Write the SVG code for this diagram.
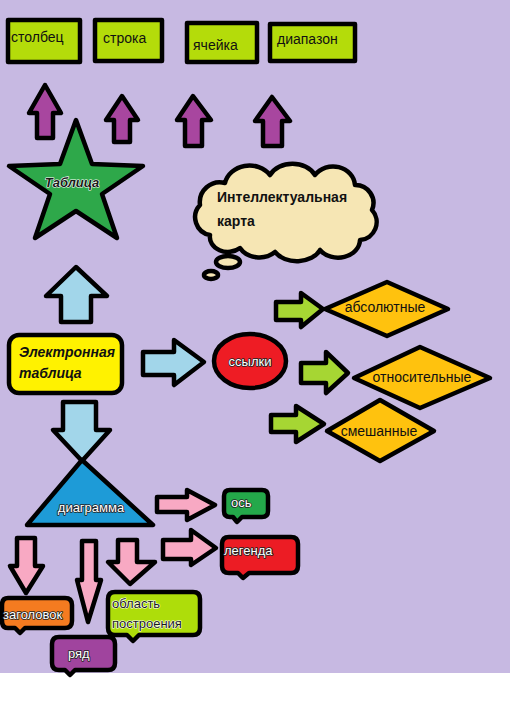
<svg xmlns="http://www.w3.org/2000/svg" width="510" height="702" viewBox="0 0 510 702">
<style>
.s{stroke:#000;stroke-width:4.5;stroke-linejoin:round}
.t{font-family:"Liberation Sans",Arial,sans-serif;font-size:14px;fill:#111}
.w{font-family:"Liberation Sans",Arial,sans-serif;font-size:13px;fill:#fff;stroke:#222;stroke-width:1.6;paint-order:stroke;stroke-linejoin:round}
.d{font-family:"Liberation Sans",Arial,sans-serif;font-size:13px;fill:#1a1a1a;stroke:#fff;stroke-width:1.2;paint-order:stroke;stroke-linejoin:round}
.i{font-style:italic;font-weight:bold}
.box{fill:#B4DC0A}
.pu{fill:#A8469F}
.lb{fill:#A2D6EA}
.gr{fill:#A6D633}
.pk{fill:#F8A9C3}
.dm{fill:#FFC20E}
</style>
<rect x="0" y="0" width="510" height="702" fill="#fff"/>
<rect x="0" y="0" width="510" height="673" fill="#C7B9E2"/>

<g id="connectors">
<polygon class="s pu" points="45,85 61,113 53,113 53,138 37,138 37,113 29,113"/>
<polygon class="s pu" points="122,96 138,120 130,120 130,142 114,142 114,120 106,120"/>
<polygon class="s pu" points="193,96 211,120 202,120 202,146 185,146 185,120 177,120"/>
<polygon class="s pu" points="272,97 290,121 282,121 282,146 263,146 263,121 255,121"/>
<polygon class="s lb" points="76,267 107,296 91,296 91,322 61,322 61,296 46,296"/>
<polygon class="s lb" points="63,402 96,402 96,430 110,430 82,461 53,430 63,430"/>
<polygon class="s lb" points="143,352 174,352 174,340 204,362 174,385 174,375 143,375"/>
<polygon class="s gr" points="276,302 301,302 301,293 323,309 301,327 301,320 276,320"/>
<polygon class="s gr" points="301,363 326,363 326,352 348,373 326,393 326,383 301,383"/>
<polygon class="s gr" points="271,415 296,415 296,406 324,424 296,442 296,432 271,432"/>
<polygon class="s pk" points="157,497 187,497 187,490 215,505 187,520 187,512 157,512"/>
<polygon class="s pk" points="163,540 191,540 191,530 216,548 191,565 191,559 163,559"/>
<polygon class="s pk" points="17,538 35,538 35,566 43,566 26,593 10,566 17,566"/>
<polygon class="s pk" points="82,541 96,541 96,580 101,580 88,622 77,580 82,580"/>
<polygon class="s pk" points="118,540 137,540 137,562 155,562 130,584 108,562 118,562"/>
</g>

<g id="stolbec"><rect class="s box" x="8" y="20" width="72" height="42"/><text class="t" x="11" y="42">столбец</text></g>
<g id="stroka"><rect class="s box" x="95" y="20" width="67" height="41"/><text class="t" x="103" y="43">строка</text></g>
<g id="yacheyka"><rect class="s box" x="187" y="23" width="70" height="39"/><text class="t" x="193" y="50">ячейка</text></g>
<g id="diapazon"><rect class="s box" x="270" y="24" width="85" height="37"/><text class="t" x="277" y="44">диапазон</text></g>

<g id="tablica">
<polygon class="s" fill="#2EA84A" points="76,120 92,164 143,166 102,194 117,238 76,211 35,238 50,194 9,166 60,164"/>
<text class="d i" x="72" y="187" text-anchor="middle" font-size="12">Таблица</text>
</g>

<g id="karta">
<path class="s" fill="#F6E6B4" d="M210 235 A18 18 0 0 1 200 205 A20 20 0 0 1 225 183 A25 22 0 0 1 270 175 A25 20 0 0 1 315 175 A22 20 0 0 1 355 185 A18 18 0 0 1 372 210 A18 18 0 0 1 360 240 A22 18 0 0 1 320 250 A25 18 0 0 1 275 252 A22 18 0 0 1 240 248 A18 15 0 0 1 210 235 Z"/>
<ellipse class="s" fill="#F6E6B4" cx="228" cy="262" rx="12" ry="6"/>
<ellipse class="s" fill="#F6E6B4" cx="211" cy="275" rx="7" ry="4"/>
<text class="t" x="217" y="202" font-weight="bold" font-size="13.5">Интеллектуальная</text>
<text class="t" x="217" y="226" font-weight="bold" font-size="13.5">карта</text>
</g>

<g id="elektronnaya">
<rect class="s" fill="#FFF200" x="9" y="335" width="113" height="58" rx="10"/>
<text class="t i" x="19" y="357" fill="#333" font-size="13">Электронная</text>
<text class="t i" x="19" y="378" fill="#333" font-size="13">таблица</text>
</g>

<g id="ssylki"><ellipse class="s" fill="#EE1C24" cx="250" cy="361" rx="36" ry="27"/><text class="w" x="250" y="366" text-anchor="middle" font-size="12.5">ссылки</text></g>

<g id="absolyutnye"><polygon class="s dm" points="325,309 387,282 448,309 387,336"/><text class="t" x="385" y="312" text-anchor="middle">абсолютные</text></g>
<g id="otnositelnye"><polygon class="s dm" points="354,378 420,347 490,378 420,408"/><text class="t" x="422" y="382" text-anchor="middle">относительные</text></g>
<g id="smeshannye"><polygon class="s dm" points="327,431 380,400 434,431 380,461"/><text class="t" x="379" y="436" text-anchor="middle">смешанные</text></g>

<g id="diagramma"><polygon class="s" fill="#1E9BD7" points="82,460 153,525 27,525"/><text class="w" x="91" y="512" text-anchor="middle" font-size="12.5">диаграмма</text></g>

<g id="os"><path class="s" fill="#24A84A" d="M230 490 H262 Q268 490 268 496 V511 Q268 517 262 517 H242 L237 522 L233 517 H230 Q224 517 224 511 V496 Q224 490 230 490 Z"/><text class="w" x="231" y="507" font-size="12">ось</text></g>
<g id="legenda"><path class="s" fill="#EC1C24" d="M229 537 H291 Q298 537 298 544 V566 Q298 573 291 573 H249 L243 578 L238 573 H229 Q222 573 222 566 V544 Q222 537 229 537 Z"/><text class="w" x="224" y="555" font-size="13.5">легенда</text></g>
<g id="zagolovok"><path class="s" fill="#F47B20" d="M8 598 H65 Q72 598 72 605 V621 Q72 628 65 628 H25 L20 633 L15 628 H8 Q2 628 2 621 V605 Q2 598 8 598 Z"/><text class="w" x="3" y="619" font-size="12">заголовок</text></g>
<g id="ryad"><path class="s" fill="#A0449E" d="M59 637 H108 Q115 637 115 644 V663 Q115 670 108 670 H75 L70 675 L65 670 H59 Q52 670 52 663 V644 Q52 637 59 637 Z"/><text class="w" x="68" y="658">ряд</text></g>
<g id="oblast"><path class="s" fill="#AEDD0A" d="M115 592 H193 Q200 592 200 599 V628 Q200 635 193 635 H139 L133 641 L127 635 H115 Q108 635 108 628 V599 Q108 592 115 592 Z"/><text class="d" x="112" y="608" font-size="14">область</text><text class="d" x="112" y="628" font-size="14">построения</text></g>
</svg>
